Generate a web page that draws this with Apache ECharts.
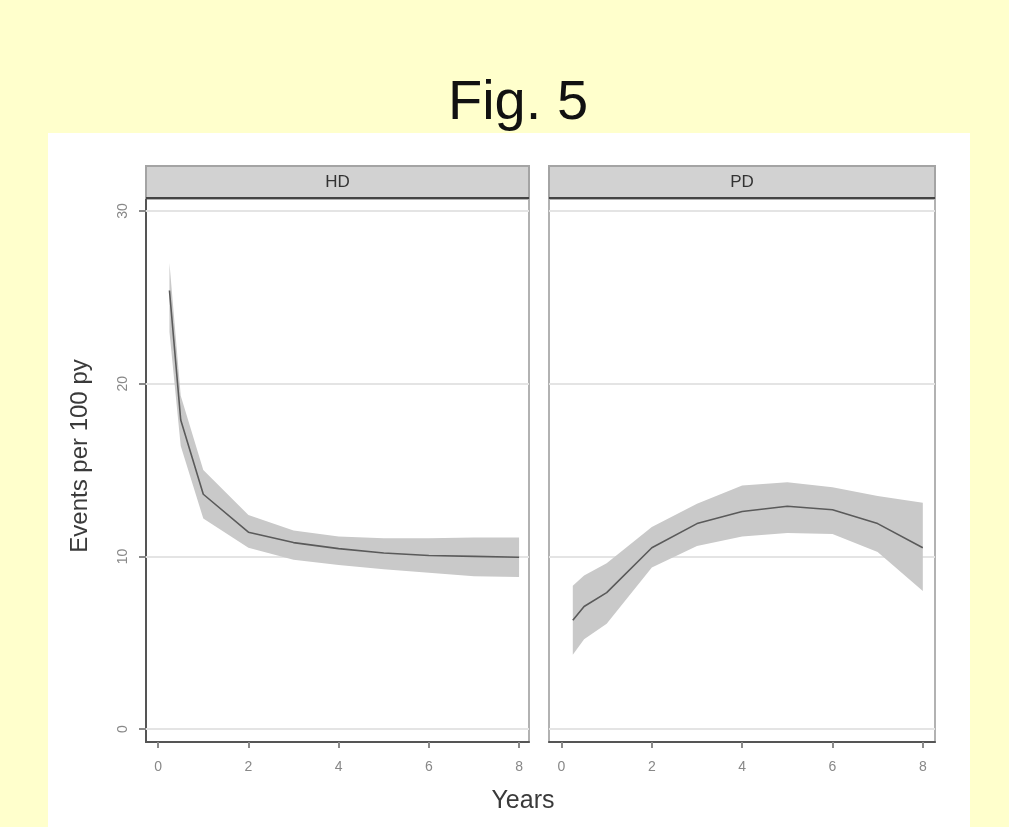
<!DOCTYPE html>
<html>
<head>
<meta charset="utf-8">
<script src="https://cdn.jsdelivr.net/npm/echarts@6/dist/echarts.min.js"></script>
<style>
html,body{margin:0;padding:0;background:#ffffcc;}
#chart{width:1009px;height:827px;}
</style>
</head>
<body>
<div id="chart"></div>
<script>
// ---- data ----
const panels = ['HD', 'PD'];
const years = [0.25, 0.5, 1, 2, 3, 4, 5, 6, 7, 8];
const hdEst   = [25.4, 17.9, 13.6, 11.4, 10.8, 10.45, 10.2, 10.05, 10.0, 9.95];
const hdUpper = [27.0, 19.3, 15.0, 12.4, 11.5, 11.15, 11.05, 11.05, 11.1, 11.1];
const hdLower = [23.0, 16.4, 12.2, 10.5, 9.8, 9.5, 9.25, 9.05, 8.85, 8.8];
const pdEst   = [6.3, 7.1, 7.9, 10.5, 11.9, 12.6, 12.9, 12.7, 11.9, 10.5];
const pdUpper = [8.3, 8.9, 9.6, 11.7, 13.05, 14.1, 14.3, 14.0, 13.5, 13.1];
const pdLower = [4.3, 5.2, 6.1, 9.35, 10.6, 11.15, 11.35, 11.3, 10.25, 8.0];
const xTicks = [0, 2, 4, 6, 8];
const yTicks = [0, 10, 20, 30];
const titleText = 'Fig. 5';
const yTitle = 'Events per 100 py';
const xTitle = 'Years';

const FONT = '"Liberation Sans", Arial, sans-serif';
const chart = echarts.init(document.getElementById('chart'));

const grids = [
  {left: 146, top: 199, width: 383, height: 543},
  {left: 549, top: 199, width: 386, height: 543}
];

function pairs(xs, ys) { return xs.map((x, i) => [x, ys[i]]); }

function panelSeries(idx, est, lo, up) {
  const bandData = years.map((x, i) => [x, lo[i], up[i]]);
  return [
    { // grid lines
      type: 'line', xAxisIndex: idx, yAxisIndex: idx, z: 1,
      data: [[0, 0]], symbol: 'none', lineStyle: {opacity: 0}, silent: true,
      markLine: {
        z: 1, silent: true, symbol: 'none', label: {show: false},
        lineStyle: {color: '#e4e4e4', width: 2, type: 'solid'},
        data: yTicks.map(v => ({yAxis: v}))
      }
    },
    { // confidence band
      type: 'custom', xAxisIndex: idx, yAxisIndex: idx, z: 2, silent: true,
      data: bandData,
      encode: {x: 0, y: [1, 2]},
      renderItem: function (params, api) {
        if (params.dataIndex !== 0) return null;
        const top = bandData.map(d => api.coord([d[0], d[2]]));
        const bot = bandData.map(d => api.coord([d[0], d[1]])).reverse();
        return {
          type: 'polygon',
          shape: {points: top.concat(bot)},
          style: {fill: '#c9c9c9', stroke: null}
        };
      }
    },
    {
      type: 'line', xAxisIndex: idx, yAxisIndex: idx, z: 3,
      data: pairs(years, est), symbol: 'none', silent: true,
      lineStyle: {color: '#5a5a5a', width: 1.6}
    }
  ];
}

const xMins = [-0.27, -0.277];
const xMaxs = [8.22, 8.27];

const option = {
  backgroundColor: '#ffffcc',
  animation: false,
  textStyle: {fontFamily: FONT},
  grid: grids.map(g => Object.assign({show: true, borderColor: '#b2b2b2', borderWidth: 2, backgroundColor: 'transparent'}, g)),
  xAxis: [0, 1].map(i => ({
    type: 'value', gridIndex: i, min: xMins[i], max: xMaxs[i],
    splitLine: {show: false},
    axisLine: {show: true, onZero: false, lineStyle: {color: '#555', width: 2}},
    axisTick: {show: true, customValues: xTicks, length: 6, lineStyle: {color: '#8a8a8a', width: 2}},
    axisLabel: {show: true, customValues: xTicks, color: '#888', fontSize: 14, margin: 18, fontFamily: FONT}
  })),
  yAxis: [0, 1].map(i => ({
    type: 'value', gridIndex: i, min: -0.75, max: 30.7,
    splitLine: {show: false},
    axisLine: {show: i === 0, onZero: false, lineStyle: {color: '#555', width: 2}},
    axisTick: {show: i === 0, customValues: yTicks, length: 7, lineStyle: {color: '#8a8a8a', width: 2}},
    axisLabel: {show: i === 0, customValues: yTicks, rotate: 90, color: '#888', fontSize: 14, margin: 16, fontFamily: FONT}
  })),
  series: [].concat(
    panelSeries(0, hdEst, hdLower, hdUpper),
    panelSeries(1, pdEst, pdLower, pdUpper)
  ),
  graphic: [
    {type: 'rect', z: -10, silent: true, shape: {x: 48, y: 133, width: 922, height: 700}, style: {fill: '#ffffff'}},
    {type: 'text', z: 10, silent: true, x: 518, y: 104,
      style: {text: titleText, font: '56px ' + FONT, fill: '#111', align: 'center', verticalAlign: 'middle'}},
    {type: 'rect', z: 5, silent: true, shape: {x: 146, y: 166, width: 383, height: 32},
      style: {fill: '#d2d2d2', stroke: '#a4a4a4', lineWidth: 2}},
    {type: 'rect', z: 5, silent: true, shape: {x: 549, y: 166, width: 386, height: 32},
      style: {fill: '#d2d2d2', stroke: '#a4a4a4', lineWidth: 2}},
    {type: 'line', z: 6, silent: true, shape: {x1: 146, y1: 198, x2: 529, y2: 198}, style: {stroke: '#444', lineWidth: 2}},
    {type: 'line', z: 6, silent: true, shape: {x1: 549, y1: 198, x2: 935, y2: 198}, style: {stroke: '#444', lineWidth: 2}},
    {type: 'text', z: 7, silent: true, x: 337.5, y: 182,
      style: {text: panels[0], font: '17px ' + FONT, fill: '#333', align: 'center', verticalAlign: 'middle'}},
    {type: 'text', z: 7, silent: true, x: 742, y: 182,
      style: {text: panels[1], font: '17px ' + FONT, fill: '#333', align: 'center', verticalAlign: 'middle'}},
    {type: 'text', z: 7, silent: true, x: 80, y: 456, rotation: Math.PI / 2,
      style: {text: yTitle, font: '24px ' + FONT, fill: '#3a3a3a', align: 'center', verticalAlign: 'middle'}},
    {type: 'text', z: 7, silent: true, x: 523, y: 801,
      style: {text: xTitle, font: '25px ' + FONT, fill: '#3a3a3a', align: 'center', verticalAlign: 'middle'}}
  ]
};
chart.setOption(option);
</script>
</body>
</html>
